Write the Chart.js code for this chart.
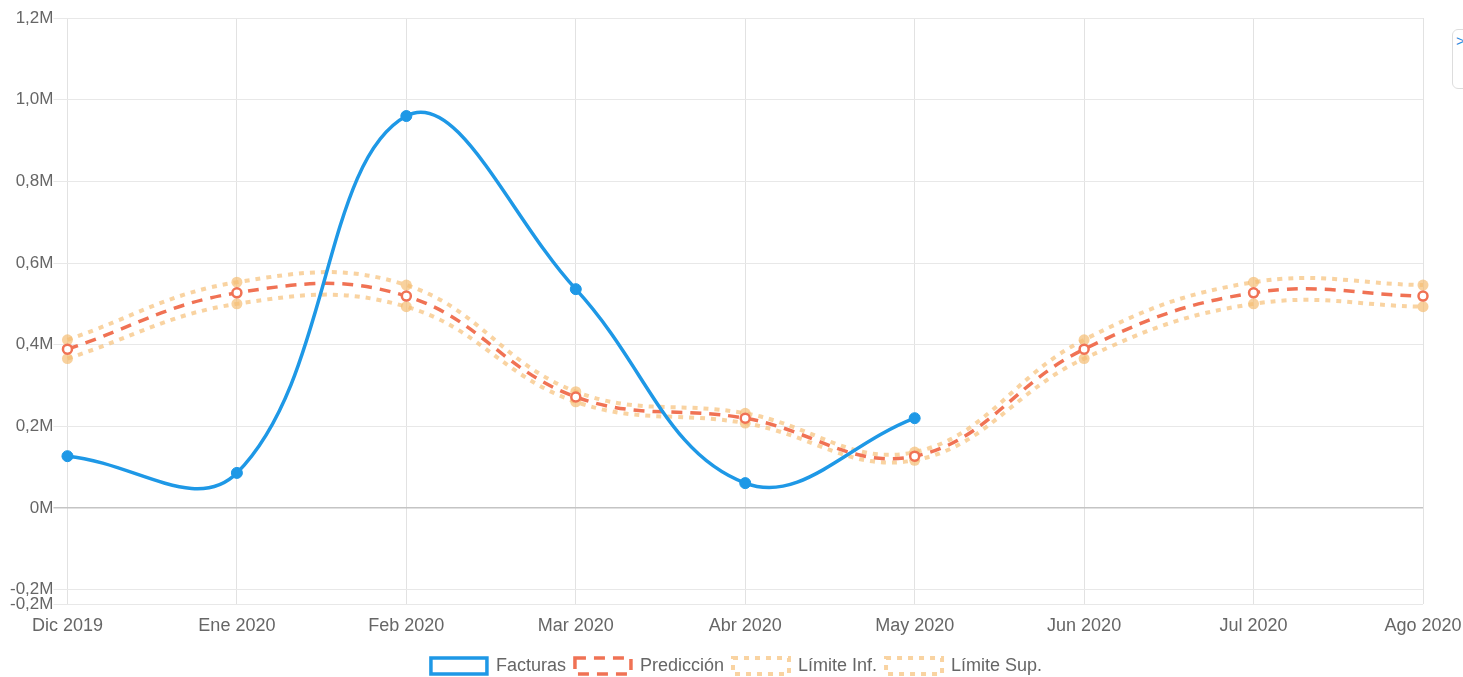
<!DOCTYPE html>
<html>
<head>
<meta charset="utf-8">
<script src="https://cdn.jsdelivr.net/npm/chart.js@4/dist/chart.umd.min.js"></script>
<style>
  body { margin: 0; background: #fff; }
  #wrap { position: relative; width: 1463px; height: 677px; overflow: hidden; }
  #side {
    position: absolute; left: 1452px; top: 29px; width: 24px; height: 60px;
    border: 1px solid #ddd; border-radius: 6px; background: #fff;
    color: #2a8de0; font: 15px "Liberation Sans", Arial, sans-serif; padding-left: 3px;
    box-sizing: border-box; line-height: 22px;
  }
</style>
</head>
<body>
<div id="wrap">
  <canvas id="myChartLine" width="1463" height="677"></canvas>
  <div id="side">&gt;</div>
</div>
<script>
const meses = ["Dic 2019", "Ene 2020", "Feb 2020", "Mar 2020", "Abr 2020", "May 2020", "Jun 2020", "Jul 2020", "Ago 2020"];
const facturas = [127000, 86000, 960000, 536000, 61000, 220000, null, null, null];
const prediccion = [389000, 527000, 519000, 272000, 220000, 127000, 389000, 527000, 519000];
const limiteInf = [366000, 500000, 493000, 260000, 208000, 117000, 366000, 500000, 493000];
const limiteSup = [412000, 553000, 546000, 285000, 232000, 137000, 412000, 553000, 546000];
const yTicks = [-235000, -200000, 0, 200000, 400000, 600000, 800000, 1000000, 1200000];

const fmt = (v) => {
  if (v === 0) return "0M";
  return (v / 1e6).toFixed(1).replace(".", ",") + "M";
};

const fontFam = "'Liberation Sans', Arial, sans-serif";

const canvas_line = document.getElementById("myChartLine");
let myChart_line = new Chart(canvas_line, {
  type: "line",
  data: {
    labels: meses,
    datasets: [
      {
        label: "Facturas",
        data: facturas,
        borderColor: "rgb(30,152,230)",
        backgroundColor: "#fff",
        borderWidth: 3.5,
        tension: 0.4,
        pointRadius: 5.5,
        pointBackgroundColor: "rgb(30,152,230)",
        pointBorderColor: "rgb(30,152,230)",
        pointBorderWidth: 1,
      },
      {
        label: "Predicción",
        data: prediccion,
        borderColor: "rgb(240,114,84)",
        backgroundColor: "#fff",
        borderWidth: 3.5,
        borderDash: [11, 8],
        tension: 0.4,
        pointRadius: 4.5,
        pointBackgroundColor: "#fff",
        pointBorderColor: "rgb(240,114,84)",
        pointBorderWidth: 2.5,
      },
      {
        label: "Límite Inf.",
        data: limiteInf,
        borderColor: "rgba(247,196,130,0.75)",
        backgroundColor: "#fff",
        borderWidth: 4,
        borderDash: [5, 6],
        tension: 0.4,
        pointRadius: 5.5,
        pointBackgroundColor: "rgba(245,190,115,0.7)",
        pointBorderColor: "rgba(245,190,115,0)",
      },
      {
        label: "Límite Sup.",
        data: limiteSup,
        borderColor: "rgba(247,196,130,0.75)",
        backgroundColor: "#fff",
        borderWidth: 4,
        borderDash: [5, 6],
        tension: 0.4,
        pointRadius: 5.5,
        pointBackgroundColor: "rgba(245,190,115,0.7)",
        pointBorderColor: "rgba(245,190,115,0)",
      },
    ],
  },
  options: {
    responsive: false,
    animation: false,
    events: [],
    layout: { padding: { top: 18, left: 10, right: 0, bottom: -8 } },
    plugins: {
      tooltip: { enabled: false },
      legend: {
        position: "bottom",
        labels: {
          boxWidth: 56,
          boxHeight: 16,
          padding: 9,
          color: "#666",
          font: { family: fontFam, size: 18 },
        },
      },
    },
    scales: {
      x: {
        offset: false,
        grid: { color: "#e2e2e2", drawTicks: false },
        border: { display: false },
        afterFit: (s) => {
          // let the last label hang past the plot edge like in the original
          s.paddingRight = 40;
        },
        ticks: {
          color: "#666",
          padding: 13,
          maxRotation: 0,
          font: { family: fontFam, size: 18, lineHeight: 1 },
        },
      },
      y: {
        min: -235000,
        max: 1200000,
        afterBuildTicks: (axis) => {
          axis.ticks = yTicks.map((v) => ({ value: v }));
        },
        grid: {
          color: (c) => (c.tick && c.tick.value === 0 ? "#c4c4c4" : "#e8e8e8"),
          lineWidth: (c) => (c.tick && c.tick.value === 0 ? 1.5 : 1),
          tickLength: 14,
        },
        border: { display: false },
        ticks: {
          color: "#666",
          padding: 0,
          autoSkip: false,
          callback: (v) => fmt(v),
          font: { family: fontFam, size: 17 },
        },
      },
    },
  },
});
</script>
</body>
</html>
